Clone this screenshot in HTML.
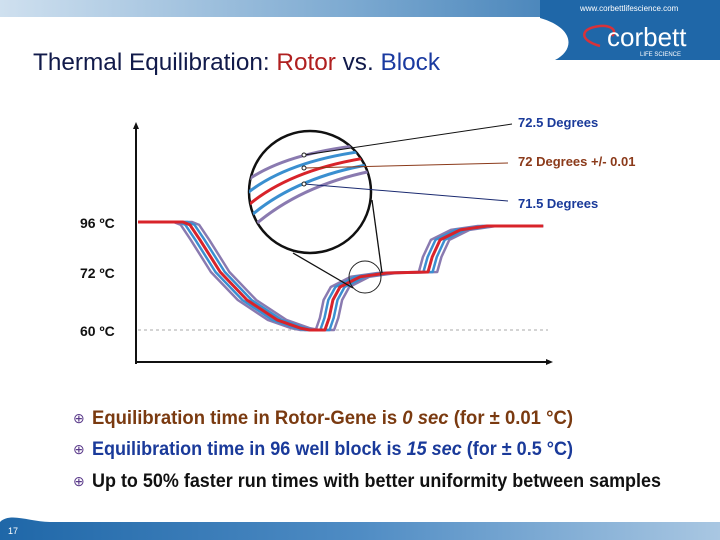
<!DOCTYPE html>
<html><head><meta charset="utf-8"><style>
html,body{margin:0;padding:0;background:#fff;}
svg{display:block;font-family:"Liberation Sans",Arial,sans-serif;}
</style></head><body>
<svg id="s" width="720" height="540" viewBox="0 0 720 540">
<defs>
<linearGradient id="band" x1="0" x2="1" y1="0" y2="0">
<stop offset="0" stop-color="#cfe0ef"/><stop offset="0.5" stop-color="#7aa8d0"/><stop offset="1" stop-color="#1f67a8"/>
</linearGradient>
<linearGradient id="band2" x1="0" x2="1" y1="0" y2="0">
<stop offset="0" stop-color="#1f67a8"/><stop offset="0.5" stop-color="#4f8cc4"/><stop offset="1" stop-color="#a9c7e2"/>
</linearGradient>
<clipPath id="mag"><circle cx="310" cy="192" r="61"/></clipPath>
</defs>
<rect x="0" y="0" width="720" height="17" fill="url(#band)"/>
<path d="M540,0 H720 V60 H555 C575,50 575,28 540,18 Z" fill="#1f67a8"/>
<text x="580" y="11" font-size="8" fill="#fff">www.corbettlifescience.com</text>
<path d="M600,46 C578,40 580,28 600,26 C610,25 618,30 612,36" fill="none" stroke="#d8323a" stroke-width="2.5"/>
<text x="607" y="46" font-size="26" fill="#fff">corbett</text>
<text x="640" y="56" font-size="6" fill="#fff">LIFE SCIENCE</text>
<text x="33" y="70" font-size="24" fill="#111a4a" textLength="407" lengthAdjust="spacingAndGlyphs">Thermal Equilibration:  <tspan fill="#b02020">Rotor</tspan> vs. <tspan fill="#1a3aa0">Block</tspan></text>

<g id="chart">
<line x1="136" y1="125" x2="136" y2="364" stroke="#111" stroke-width="2"/>
<path d="M133,129 L136,122 L139,129 Z" fill="#111"/>
<line x1="135" y1="362" x2="550" y2="362" stroke="#111" stroke-width="2"/>
<path d="M546,359 L553,362 L546,365 Z" fill="#111"/>
<line x1="138" y1="330" x2="548" y2="330" stroke="#aaa" stroke-width="1" stroke-dasharray="3,3"/>
<g id="ticks"></g>
<g id="series"></g>
</g>

<g>
<circle cx="365" cy="277" r="16" fill="none" stroke="#222" stroke-width="1"/>
<line x1="293" y1="253" x2="353" y2="288" stroke="#111" stroke-width="1.3"/>
<line x1="372" y1="200" x2="382" y2="273" stroke="#111" stroke-width="1.3"/>
<circle cx="310" cy="192" r="61" fill="#fff" stroke="#111" stroke-width="2.5"/>
<g clip-path="url(#mag)" fill="none" stroke-width="3">
<path d="M245,182 Q285,152 372,144" stroke="#8a7ab0"/>
<path d="M245,195 Q287,160 372,150" stroke="#3a8fd0"/>
<path d="M245,208 Q289,169 372,157" stroke="#d8232a"/>
<path d="M245,221 Q291,178 372,164" stroke="#3a8fd0"/>
<path d="M245,234 Q293,187 372,171" stroke="#8a7ab0"/>
</g>
<line x1="304" y1="155" x2="512" y2="124" stroke="#111" stroke-width="1"/>
<line x1="304" y1="168" x2="508" y2="163" stroke="#8b3a1a" stroke-width="1"/>
<line x1="304" y1="184" x2="508" y2="201" stroke="#1a2a70" stroke-width="1"/>
<circle cx="304" cy="155" r="2" fill="#fff" stroke="#222"/>
<circle cx="304" cy="168" r="2" fill="#fff" stroke="#222"/>
<circle cx="304" cy="184" r="2" fill="#fff" stroke="#222"/>
<text x="518" y="127" font-size="13" font-weight="bold" fill="#1a3a9a">72.5 Degrees</text>
<text x="518" y="166" font-size="13" font-weight="bold" fill="#8b3a1a">72 Degrees +/- 0.01</text>
<text x="518" y="208" font-size="13" font-weight="bold" fill="#1a3a9a">71.5 Degrees</text>
</g>

<g font-size="19" font-weight="bold">
<text x="73" y="423" font-size="14" fill="#5a3a8a" font-weight="normal">⊕</text>
<text x="92" y="424" fill="#7a3a10" textLength="481" lengthAdjust="spacingAndGlyphs">Equilibration time in Rotor-Gene is <tspan font-style="italic">0 sec</tspan> (for ± 0.01 °C)</text>
<text x="73" y="454" font-size="14" fill="#5a3a8a" font-weight="normal">⊕</text>
<text x="92" y="455" fill="#1a3a9a" textLength="481" lengthAdjust="spacingAndGlyphs">Equilibration time in 96 well block is <tspan font-style="italic">15 sec</tspan> (for ± 0.5 °C)</text>
<text x="73" y="486" font-size="14" fill="#5a3a8a" font-weight="normal">⊕</text>
<text x="92" y="487" fill="#111" textLength="569" lengthAdjust="spacingAndGlyphs">Up to 50% faster run times with better uniformity between samples</text>
</g>

<path d="M0,522 C10,512 30,522 50,522 H720 V540 H0 Z" fill="url(#band2)"/>
<text x="8" y="534" font-size="9" fill="#fff">17</text>
</svg>
<script>
const tickValues = [96, 72, 60];
const tickLabels = ["96 ºC", "72 ºC", "60 ºC"];
const times = [1.2, 11.9, 13.6, 16, 20.8, 27.2, 34.4, 39.9, 42.2, 45.8, 46.8, 47.7, 49.4, 54.2, 60.6, 70.4, 71.4, 73.3, 78.1, 84.5, 97.9];
const temps = [96, 96, 94.6, 87.4, 72, 66.2, 62.1, 60.4, 60, 60, 62.5, 66.2, 68.9, 71, 71.8, 72, 79.2, 87.4, 92.2, 94.1, 94.1];
const seriesNames = ["sample-a", "sample-b", "sample-c", "sample-d", "sample-e"];
const seriesLags = [-2.2, -1.1, 0, 1.1, 2.2];
const seriesColors = ["#8a7ab0", "#3a8fd0", "#d8232a", "#3a8fd0", "#8a7ab0"];

const NS = "http://www.w3.org/2000/svg";
function xScale(t){ return 133 + t * 4.19; }
function yScale(v){ return v >= 72 ? 272 - (v - 72) / 24 * 50 : 272 + (72 - v) / 12 * 58; }

const tg = document.getElementById("ticks");
tickValues.forEach((v, i) => {
  const t = document.createElementNS(NS, "text");
  t.setAttribute("x", 80); t.setAttribute("y", yScale(v) + 6);
  t.setAttribute("font-size", "14"); t.setAttribute("font-weight", "bold"); t.setAttribute("fill", "#111");
  
  
  t.textContent = tickLabels[i];
  tg.appendChild(t);
});

const sg = document.getElementById("series");
const order = [0, 4, 1, 3, 2];
order.forEach(k => {
  let d = "";
  times.forEach((t, i) => {
    let tt = t + seriesLags[k];
    if (i === 0 || i === times.length - 1) tt = t;
    d += (i ? "L" : "M") + xScale(tt).toFixed(1) + "," + yScale(temps[i]).toFixed(1);
  });
  const p = document.createElementNS(NS, "path");
  p.setAttribute("d", d);
  p.setAttribute("fill", "none");
  p.setAttribute("stroke", seriesColors[k]);
  p.setAttribute("stroke-width", k === 2 ? "3" : "2.5");
  p.setAttribute("stroke-linejoin", "round");
  
  
  sg.appendChild(p);
});
</script>
</body></html>
